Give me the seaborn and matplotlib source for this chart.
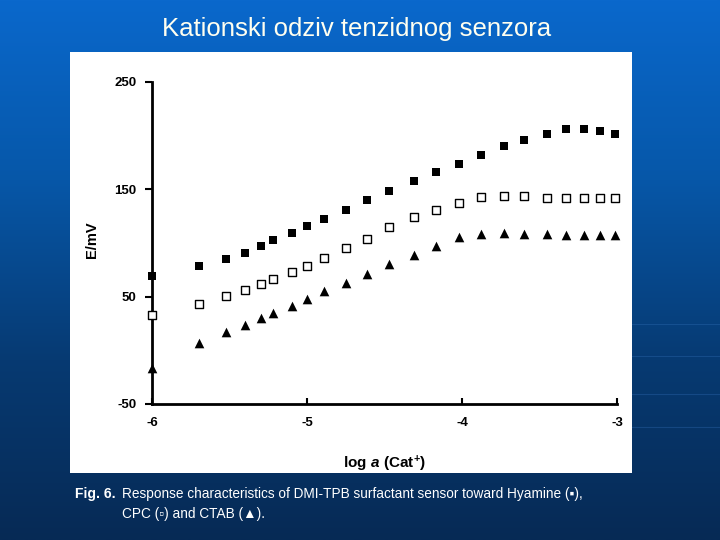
import numpy as np
import pandas as pd
import seaborn as sns
import matplotlib.pyplot as plt
from matplotlib.patches import Rectangle

# podaci ocitani sa slike
log_a = [-6.00, -5.70, -5.52, -5.40, -5.30, -5.22, -5.10, -5.00, -4.89, -4.75, -4.61, -4.47,
         -4.31, -4.17, -4.02, -3.88, -3.73, -3.60, -3.45, -3.33, -3.21, -3.11, -3.01]
hyamine = [69, 79, 85, 91, 97, 103, 109, 116, 122, 131, 140, 148,
           158, 166, 174, 182, 190, 196, 202, 206, 206, 204, 202]
cpc = [33, 43, 51, 56, 62, 66, 73, 79, 86, 95, 104, 115,
       124, 131, 137, 143, 144, 144, 142, 142, 142, 142, 142]
ctab = [-16, 7, 17, 24, 30, 35, 41, 48, 55, 63, 71, 80,
        89, 97, 106, 108, 109, 108, 108, 107, 107, 107, 107]
x_ticks = [-6, -5, -4, -3]
y_ticks = [-50, 50, 150, 250]

df = pd.DataFrame({'log_a': log_a, 'Hyamine': hyamine, 'CPC': cpc, 'CTAB': ctab})

sns.set_theme(style='white')
plt.rcParams['font.family'] = ['Liberation Sans', 'DejaVu Sans']
plt.rcParams['mathtext.fontset'] = 'custom'
plt.rcParams['mathtext.rm'] = 'Liberation Sans:bold'
plt.rcParams['mathtext.it'] = 'Liberation Sans:italic:bold'
plt.rcParams['mathtext.bf'] = 'Liberation Sans:bold'

fig = plt.figure(figsize=(7.2, 5.4), dpi=100)

# pozadina slajda - plavi gradijent
bg = fig.add_axes([0, 0, 1, 1], zorder=0)
grad = np.linspace(0, 1, 256).reshape(-1, 1)
cmap = sns.blend_palette(['#0a68cc', '#0657a8', '#073a72', '#062a55'], as_cmap=True)
bg.imshow(grad, aspect='auto', cmap=cmap, extent=[0, 1, 0, 1])
for yy in [0.40, 0.34, 0.27, 0.21]:
    bg.plot([0.86, 1.0], [yy, yy], color='#3a78c0', lw=0.8, alpha=0.3)
bg.set_xlim(0, 1)
bg.set_ylim(0, 1)
bg.axis('off')
bg.add_patch(Rectangle((70 / 720, 1 - 473 / 540), 562 / 720, 421 / 540, facecolor='white',
                       edgecolor='none', zorder=2))

fig.text(357 / 720, 1 - 29 / 540, 'Kationski odziv tenzidnog senzora', ha='center', va='center',
         fontsize=18.5, color='#fffff0')

ax = fig.add_axes([152 / 720, 1 - 404 / 540, 465 / 720, 322 / 540], zorder=1)
ax.patch.set_alpha(0)

sns.scatterplot(data=df, x='log_a', y='Hyamine', marker='s', s=38, color='black',
                linewidth=0, ax=ax, clip_on=False, zorder=3)
sns.scatterplot(data=df, x='log_a', y='CPC', marker='s', s=32, facecolor='white',
                edgecolor='black', linewidth=1, ax=ax, clip_on=False, zorder=3)
sns.scatterplot(data=df, x='log_a', y='CTAB', marker='^', s=48, color='black',
                linewidth=0, ax=ax, clip_on=False, zorder=3)

ax.set_xlim(-6, -3)
ax.set_ylim(-50, 250)
ax.set_xticks(x_ticks)
ax.set_yticks(y_ticks)
ax.set_xticklabels([str(t) for t in x_ticks], fontweight='bold', fontsize=9.5)
ax.set_yticklabels([str(t) for t in y_ticks], fontweight='bold', fontsize=9.5)
ax.tick_params(axis='y', direction='out', length=5, width=1.5, pad=6, left=True, colors='black')
ax.tick_params(axis='x', direction='in', length=4, width=1.5, pad=9, bottom=True, colors='black')
sns.despine(ax=ax)
for s in ['left', 'bottom']:
    ax.spines[s].set_linewidth(2)
    ax.spines[s].set_color('black')

ax.set_xlabel(r'$\mathrm{log}\ \mathit{a}\ \mathrm{(Cat^{+})}$', fontsize=11, color='black')
ax.set_ylabel('E/mV', fontsize=10.5, fontweight='bold', color='black')
ax.xaxis.set_label_coords(0.5, -0.155)
ax.yaxis.set_label_coords(-0.115, 0.51)

fig.text(75 / 720, 1 - 494 / 540, 'Fig. 6.', fontsize=10, fontweight='bold', color='white',
         va='center')
fig.text(122 / 720, 1 - 494 / 540,
         'Response characteristics of DMI-TPB surfactant sensor toward Hyamine (\u25aa),',
         fontsize=9.8, color='white', va='center')
fig.text(122 / 720, 1 - 514 / 540, 'CPC (\u25ab) and CTAB (\u25b2).', fontsize=9.8,
         color='white', va='center')

fig.savefig('out.png', dpi=100)
